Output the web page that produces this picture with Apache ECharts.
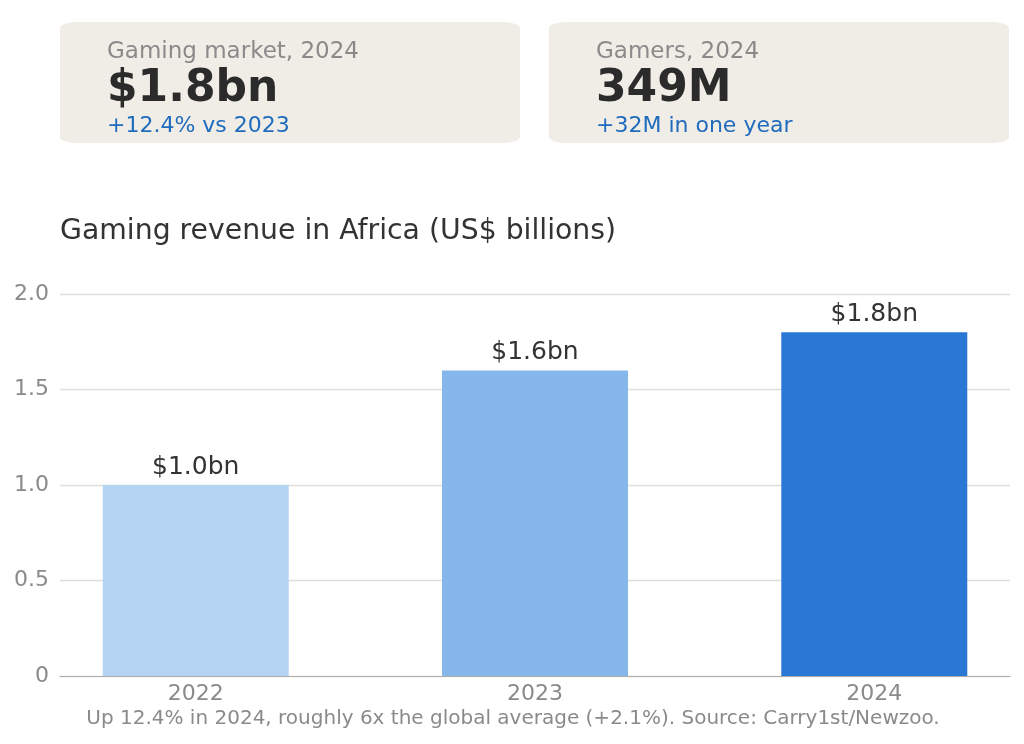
<!DOCTYPE html>
<html><head><meta charset="utf-8">
<script src="https://cdn.jsdelivr.net/npm/echarts@6/dist/echarts.min.js"></script>
<style>html,body{margin:0;padding:0;background:#fff}#c{width:1024px;height:744px}</style>
</head><body><div id="c"></div>
<script>
const years = ['2022', '2023', '2024'];
const revenue = [1.0, 1.6, 1.8];
const barLabels = ['$1.0bn', '$1.6bn', '$1.8bn'];
const barColors = ['#b5d4f3', '#86b7ea', '#2a78d6'];
const yTicks = [0, 0.5, 1.0, 1.5, 2.0];
const cards = [
  {label: 'Gaming market, 2024', value: '$1.8bn', sub: '+12.4% vs 2023'},
  {label: 'Gamers, 2024', value: '349M', sub: '+32M in one year'}
];
const title = 'Gaming revenue in Africa (US$ billions)';
const caption = 'Up 12.4% in 2024, roughly 6x the global average (+2.1%). Source: Carry1st/Newzoo.';

const FONT = '"DejaVu Sans", sans-serif';
const chart = echarts.init(document.getElementById('c'));
const cardX = [60, 549];
const graphic = [];
function roundedPoints(x, y, w, h, rx, ry) {
  const pts = [];
  const corners = [
    [x + w - rx, y + ry, -Math.PI / 2, 0],
    [x + w - rx, y + h - ry, 0, Math.PI / 2],
    [x + rx, y + h - ry, Math.PI / 2, Math.PI],
    [x + rx, y + ry, Math.PI, Math.PI * 1.5]
  ];
  corners.forEach(c => {
    for (let k = 0; k <= 10; k++) {
      const a = c[2] + (c[3] - c[2]) * k / 10;
      pts.push([c[0] + rx * Math.cos(a), c[1] + ry * Math.sin(a)]);
    }
  });
  return pts;
}
cards.forEach((c, i) => {
  const x = cardX[i];
  graphic.push({type: 'polygon', shape: {points: roundedPoints(x, 22, 460, 121, 18, 6)}, style: {fill: '#f0ede7'}, z: 0});
  graphic.push({type: 'text', x: x + 47, y: 52, style: {text: c.label, font: '23px ' + FONT, fill: '#8a8a8a', textVerticalAlign: 'middle'}});
  graphic.push({type: 'text', x: x + 47, y: 90, style: {text: c.value, font: 'bold 44px ' + FONT, fill: '#2b2b2b', textVerticalAlign: 'middle'}});
  graphic.push({type: 'text', x: x + 47, y: 126, style: {text: c.sub, font: '22px ' + FONT, fill: '#1f6bbd', textVerticalAlign: 'middle'}});
});
graphic.push({type: 'text', x: 60, y: 232, style: {text: title, font: '28.3px ' + FONT, fill: '#333', textVerticalAlign: 'middle'}});
graphic.push({type: 'text', x: 513, y: 719, style: {text: caption, font: '20px ' + FONT, fill: '#8a8a8a', textAlign: 'center', textVerticalAlign: 'middle'}});

chart.setOption({
  animation: false,
  grid: {left: 60, right: 14, top: 294, bottom: 68, containLabel: false},
  xAxis: {
    type: 'value', min: -0.4, max: 2.4,
    splitLine: {show: false},
    axisTick: {show: false},
    axisLine: {show: true, lineStyle: {color: '#b0aea8', width: 1.2}},
    axisLabel: {customValues: [0, 1, 2], formatter: v => years[Math.round(v)], color: '#8a8a8a', fontSize: 22, fontFamily: FONT, margin: 7}
  },
  yAxis: {
    type: 'value', min: 0, max: 2.0, interval: 0.5,
    axisLine: {show: false}, axisTick: {show: false},
    splitLine: {lineStyle: {color: '#e0ded8', width: 1.3}},
    axisLabel: {formatter: v => v === 0 ? '0' : v.toFixed(1), color: '#8a8a8a', fontSize: 22, fontFamily: FONT, margin: 11}
  },
  series: [{
    type: 'bar', barWidth: 186,
    data: revenue.map((v, i) => ({value: [i, v], itemStyle: {color: barColors[i]}, label: {formatter: barLabels[i]}})),
    label: {show: true, position: 'top', distance: 5, color: '#333', fontSize: 25, fontFamily: FONT}
  }],
  graphic: graphic
});
</script></body></html>
